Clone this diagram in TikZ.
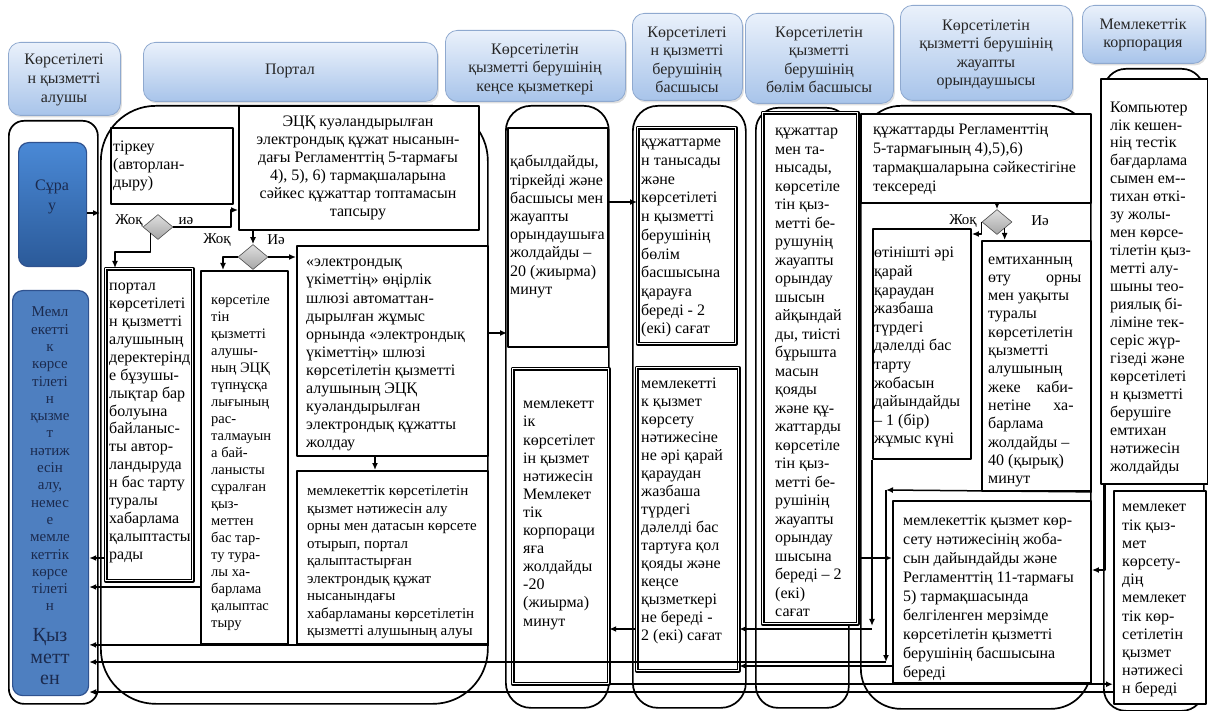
\documentclass[tikz,border=0pt]{standalone}
\usepackage{fontspec}
\setmainfont{Liberation Serif}
\usetikzlibrary{arrows.meta,shapes.geometric,shadows}
\definecolor{hdtop}{HTML}{EAF1FB}
\definecolor{hdbot}{HTML}{A8C4EA}
\definecolor{hdline}{HTML}{8FA9CF}
\definecolor{bltop}{HTML}{4A89D6}
\definecolor{blbot}{HTML}{2B5A99}
\definecolor{blflat}{HTML}{4E7FC0}
\definecolor{bline}{HTML}{2F528F}
\definecolor{navy}{HTML}{1B2A4E}
\newcommand{\myfs}[2]{\fontsize{#1}{#2}\selectfont}
\begin{document}
\begin{tikzpicture}[x=1pt,y=-1pt,line join=round,
 hdr/.style={draw=hdline,line width=0.8pt,rounded corners=12pt,top color=hdtop,bottom color=hdbot,drop shadow={opacity=0.25,shadow xshift=1.5pt,shadow yshift=-2pt},anchor=north west,inner sep=0pt},
 htx/.style={inner sep=0pt,align=center,anchor=north,font=\myfs{16}{18.5},text=black!85},
 ctx/.style={inner sep=0pt,align=center,anchor=north,font=\myfs{16}{18}},
 lane/.style={draw,line width=1.7pt,anchor=north west,inner sep=0pt},
 bx/.style={draw,fill=white,line width=1.9pt,anchor=north west,inner sep=0pt},
 dbx/.style={draw,fill=white,double,double distance=1.6pt,line width=1.2pt,anchor=north west,inner sep=0pt},
 arr/.style={line width=1.5pt,-{Latex[length=7pt,width=6pt]}},
 dia/.style={diamond,draw=gray!60!black,top color=gray!25,bottom color=gray!70,line width=0.6pt,minimum width=30pt,minimum height=25pt,inner sep=0pt},
 lbl/.style={inner sep=0pt,font=\myfs{15}{17}},
 tx/.style={inner sep=0pt,align=left,anchor=north west,font=\myfs{16}{18.4}}
]
\useasboundingbox (0,0) rectangle (1208,711);

% ---------- headers ----------
\node[hdr,minimum width=112,minimum height=73] (hRec) at (8,42) {};
\node[hdr,minimum width=294,minimum height=59] (hPor) at (143,42) {};
\node[hdr,minimum width=180,minimum height=71] (hKen) at (445,30) {};
\node[hdr,minimum width=110,minimum height=87] (hHead) at (632,13) {};
\node[hdr,minimum width=148,minimum height=90] (hDep) at (745,13) {};
\node[hdr,minimum width=172,minimum height=95] (hExe) at (900,5) {};
\node[hdr,minimum width=123,minimum height=58] (hCor) at (1082,5) {};

\node[htx,font=\myfs{16}{19}] (hRecT) at (64,51) {\strut Көрсетілеті\\н қызметті\\алушы};
\node[htx] (hPorT) at (290,61) {\strut Портал};
\begin{scope}
\clip[rounded corners=12pt] (445,30) rectangle (625,101);
\node[htx] (hKenT) at (535,41) {\strut Көрсетілетін\\қызметті берушінің\\кеңсе қызметкері};
\end{scope}
\begin{scope}
\clip[rounded corners=12pt] (632,13) rectangle (742,100);
\node[htx] (hHeadT) at (687,24) {\strut Көрсетілеті\\н қызметті\\берушінің\\басшысы};
\end{scope}
\node[htx] (hDepT) at (819,24) {\strut Көрсетілетін\\қызметті\\берушінің\\бөлім басшысы};
\node[htx] (hExeT) at (986,17) {\strut Көрсетілетін\\қызметті берушінің\\жауапты\\орындаушысы};
\node[htx] (hCorT) at (1143,16) {\strut Мемлекеттік\\корпорация};

% ---------- lanes ----------
\node[lane,rounded corners=15pt,minimum width=89,minimum height=583] (L1) at (8,120) {};
\node[lane,rounded corners=55pt,minimum width=387,minimum height=598] (L2) at (100,105) {};
\node[lane,rounded corners=25pt,minimum width=103,minimum height=602] (L3) at (505,105) {};
\node[lane,rounded corners=25pt,minimum width=113,minimum height=602] (L4) at (632,105) {};
\node[lane,rounded corners=22pt,minimum width=93,minimum height=600] (L5) at (755,107) {};
\node[lane,rounded corners=40pt,minimum width=230,minimum height=603] (L6) at (860,105) {};
\node[lane,rounded corners=22pt,minimum width=100,minimum height=642] (L7) at (1103,68) {};

% ---------- recipient ----------
\node[draw=bline,line width=1.2pt,rounded corners=10pt,top color=bltop,bottom color=blbot,anchor=north west,minimum width=68,minimum height=124,inner sep=0pt] (B1) at (18,142) {};
\node[draw=bline,line width=1.2pt,rounded corners=10pt,fill=blflat,anchor=north west,minimum width=76,minimum height=405,inner sep=0pt] (B2) at (12,290) {};
\node[htx,text=navy,font=\myfs{16}{20}] (B1T) at (52,176) {\strut Сұра\\у};
\begin{scope}
\clip[rounded corners=10pt] (12,290) rectangle (88,695);
\node[htx,text=navy,font=\myfs{15}{17.3}] (B2T) at (50,304.5) {\strut Мемл\\екетті\\к\\көрсе\\тілеті\\н\\қызме\\т\\нәтиж\\есін\\алу,\\немес\\е\\мемле\\кеттік\\көрсе\\тілеті\\н};
\node[htx,text=navy,font=\myfs{20}{21.5}] (B2U) at (50,626.5) {\strut Қыз\\метт\\ен};
\end{scope}

% ---------- portal ----------
\node[bx,minimum width=122,minimum height=76] (Preg) at (110,127) {};
\node[bx,minimum width=240,minimum height=124] (Pecq) at (238,105) {};
\node[dbx,minimum width=87,minimum height=312] (Pbad) at (105,268) {};
\node[bx,minimum width=87,minimum height=373] (Pb2) at (200,270) {};
\node[bx,minimum width=191,minimum height=210] (Pb3) at (296,245) {};
\node[bx,minimum width=191,minimum height=173] (Pb4) at (296,470) {};

\node[tx] (PregT) at (113,138) {\strut тіркеу\\(авторлан-\\дыру)};
\node[ctx] (PecqT) at (358,114) {\strut ЭЦҚ куәландырылған\\электрондық құжат нысанын-\\дағы Регламенттің 5-тармағы\\4), 5), 6) тармақшаларына\\сәйкес құжаттар топтамасын\\тапсыру};
\node[tx,font=\myfs{16}{17.9}] (PbadT) at (109,278) {\strut портал\\көрсетілеті\\н қызметті\\алушының\\деректерінд\\е бұзушы-\\лықтар бар\\болуына\\байланыс-\\ты автор-\\ландыруда\\н бас тарту\\туралы\\хабарлама\\қалыптасты\\рады};
\node[tx,font=\myfs{14.5}{17}] (Pb2T) at (211,292.5) {\strut көрсетіле\\тін\\қызметті\\алушы-\\ның ЭЦҚ\\түпнұсқа\\лығының\\рас-\\талмауын\\а бай-\\ланысты\\сұралған\\қыз-\\меттен\\бас тар-\\ту тура-\\лы ха-\\барлама\\қалыптас\\тыру};
\node[tx,font=\myfs{16}{18.1}] (Pb3T) at (306,254) {\strut «электрондық\\үкіметтің» өңірлік\\шлюзі автоматтан-\\дырылған жұмыс\\орнында «электрондық\\үкіметтің» шлюзі\\көрсетілетін қызметті\\алушының ЭЦҚ\\куәландырылған\\электрондық құжатты\\жолдау};
\node[tx,font=\myfs{15}{17.5}] (Pb4T) at (307,483.2) {\strut мемлекеттік көрсетілетін\\қызмет нәтижесін алу\\орны мен датасын көрсете\\отырып, портал\\қалыптастырған\\электрондық құжат\\нысанындағы\\хабарламаны көрсетілетін\\қызметті алушының алуы};

\node[dia] (d1) at (158,227) {};
\node[dia] (d2) at (253,257) {};

% ---------- office clerk ----------
\node[bx,minimum width=100,minimum height=219] (K1) at (507,127) {};
\node[dbx,minimum width=96,minimum height=315] (K2) at (512,368) {};
\node[tx,font=\myfs{16}{18.2}] (K1T) at (510,154) {\strut қабылдайды,\\тіркейді және\\басшысы мен\\жауапты\\орындаушыға\\жолдайды –\\20 (жиырма)\\минут};
\node[tx,font=\myfs{16}{18.1}] (K2T) at (523,396) {\strut мемлекетт\\ік\\көрсетілет\\ін қызмет\\нәтижесін\\Мемлекет\\тік\\корпораци\\яға\\жолдайды\\-20\\(жиырма)\\минут};

% ---------- head ----------
\node[dbx,minimum width=98,minimum height=216] (H1) at (637,127) {};
\node[dbx,minimum width=102,minimum height=303] (H2) at (636,367) {};
\node[tx,font=\myfs{16}{18.7}] (H1T) at (641,133.6) {\strut құжаттарме\\н танысады\\және\\көрсетілеті\\н қызметті\\берушінің\\бөлім\\басшысына\\қарауға\\береді - 2\\(екі) сағат};
\node[tx,font=\myfs{16}{18}] (H2T) at (641,376) {\strut мемлекетті\\к қызмет\\көрсету\\нәтижесіне\\не әрі қарай\\қараудан\\жазбаша\\түрдегі\\дәлелді бас\\тартуға қол\\қояды және\\кеңсе\\қызметкері\\не береді -\\2 (екі) сағат};

% ---------- department head ----------
\node[dbx,minimum width=95,minimum height=511] (D1) at (762,112) {};
\node[tx,font=\myfs{16}{18.5}] (D1T) at (775,122.7) {\strut құжаттар\\мен та-\\нысады,\\көрсетіле\\тін қыз-\\метті бе-\\рушунің\\жауапты\\орындау\\шысын\\айқындай\\ды, тиісті\\бұрышта\\масын\\қояды\\және құ-\\жаттарды\\көрсетіле\\тін қыз-\\метті бе-\\рушінің\\жауапты\\орындау\\шысына\\береді – 2\\(екі)\\сағат};

% ---------- executor ----------
\node[bx,minimum width=230,minimum height=89] (E1) at (860,113) {};
\node[bx,minimum width=98,minimum height=230] (E2) at (872,228) {};
\node[bx,minimum width=109,minimum height=250] (E4) at (981,240) {};
\node[bx,minimum width=198,minimum height=182] (E3) at (892,500) {};
\node[tx,font=\myfs{16}{19}] (E1T) at (873,120.6) {\strut құжаттарды Регламенттің\\5-тармағының 4),5),6)\\тармақшаларына сәйкестігіне\\тексереді};
\node[tx,font=\myfs{16}{18.6}] (E2T) at (874,244.7) {\strut өтінішті әрі\\қарай\\қараудан\\жазбаша\\түрдегі\\дәлелді бас\\тарту\\жобасын\\дайындайды\\– 1 (бір)\\жұмыс күні};
\node[tx,font=\myfs{16}{18.3}] (E4T) at (988,251) {\strut емтиханның\\өту\hspace{2.2em}орны\\мен уақыты\\туралы\\көрсетілетін\\қызметті\\алушының\\жеке\hspace{1em}каби-\\нетіне\hspace{1.4em}ха-\\барлама\\жолдайды –\\40 (қырық)\\минут};
\node[tx,font=\myfs{16}{18.9}] (E3T) at (903,512.5) {\strut мемлекеттік қызмет көр-\\сету нәтижесінің жоба-\\сын дайындайды және\\Регламенттің 11-тармағы\\5) тармақшасында\\белгіленген мерзімде\\көрсетілетін қызметті\\берушінің басшысына\\береді};
\node[dia] (d3) at (997,222) {};

% ---------- state corporation ----------
\node[bx,minimum width=107,minimum height=405] (C1) at (1100,78) {};
\node[bx,minimum width=92,minimum height=213] (C2) at (1113,490) {};
\node[tx,font=\myfs{16}{17.95}] (C1T) at (1110,99.3) {\strut Компьютер\\лік кешен-\\нің тестік\\бағдарлама\\сымен ем-{}-\\тихан өткі-\\зу жолы-\\мен көрсе-\\тілетін қыз-\\метті алу-\\шыны тео-\\риялық бі-\\ліміне тек-\\серіс жүр-\\гізеді және\\көрсетілеті\\н қызметті\\берушіге\\емтихан\\нәтижесін\\жолдайды};
\node[tx,font=\myfs{16}{18.2}] (C2T) at (1122,499) {\strut мемлекет\\тік қыз-\\мет\\көрсету-\\дің\\мемлекет\\тік көр-\\сетілетін\\қызмет\\нәтижесі\\н береді};

% ---------- labels ----------
\node[lbl] (l1) at (129,221) {Жоқ};
\node[lbl] (l2) at (186,221) {иә};
\node[lbl] (l3) at (217,240) {Жоқ};
\node[lbl] (l4) at (276,240) {Иә};
\node[lbl] (l5) at (963,221) {Жоқ};
\node[lbl] (l6) at (1040,221) {Иә};

% ---------- connectors ----------
\coordinate (k1) at (231,210);
\coordinate (k2) at (115,252);
\coordinate (k3) at (223,257);
\coordinate (k4) at (886,490);
\coordinate (k5) at (886,662);

\draw[arr] (B1.east |- 0,213) -- (L2.west |- 0,213);
\draw[arr] (d1.east) -| (k1) -- (Pecq.west |- k1);
\draw[arr] (d1.south west) |- (k2) -- (k2 |- Pbad.north);
\draw[arr] (Pecq.south -| d2) -- (d2.north);
\draw[arr] (d2.west) -- (k3) -- (k3 |- Pb2.north);
\draw[arr] (d2.east) -- (Pb3.west |- d2.east);
\draw[arr] (Pb3.south -| 375,0) -- (Pb4.north -| 375,0);
\draw[arr] (Pb3.east |- 0,333) -- (K1.west |- 0,333);
\draw[arr] (K1.east |- 0,202) -- (H1.west |- 0,202);
\draw[arr] (D1.east |- 0,558) -- (E3.west |- 0,558);
\draw[arr] (E1.south -| d3) -- (d3.north);
\draw[arr] (d3.west) |- ([yshift=-6pt]E2.north east);
\draw[arr] (d3.south east) -- (E4.north -| d3.south east);
\draw[arr] (E4.south east) -- (k4);
\draw[arr] (k4) -- (k5);
\draw[arr] (k5) -- (B2.east |- k5);
\draw[arr] (E2.south west) -- ++(0,166);
\draw[arr] (E2.south west |- 0,629) -- (H2.east |- 0,629);
\draw[arr] (H2.west |- 0,629) -- (K2.east |- 0,629);
\draw[arr] (E3.west |- 0,666) -- (H2.east |- 0,666);
\draw[arr] (K2.south east) -- (C2.west |- K2.south east);
\draw[arr] ([xshift=5pt]C1.south west) |- (E3.east |- 0,570);
\draw[arr] (C2.west |- 0,692) -- (B2.east |- 0,692);
\draw[arr] (Pbad.west |- 0,558) -- (B2.east |- 0,558);
\draw[arr] (Pb2.west |- 0,587) -- (B2.east |- 0,587);
\draw[arr] (Pb4.south east) -- (B2.east |- Pb4.south east);
\end{tikzpicture}
\end{document}
